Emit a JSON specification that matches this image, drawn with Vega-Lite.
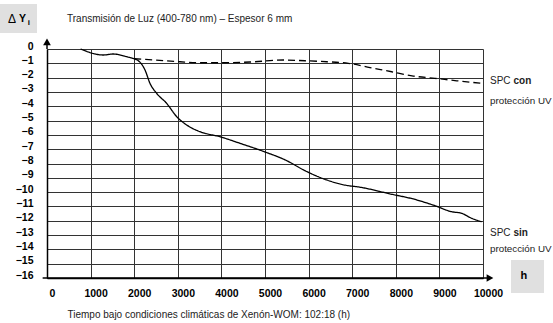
{
  "$schema": "https://vega.github.io/schema/vega-lite/v6.json",
  "width": 436,
  "height": 229,
  "autosize": "none",
  "padding": {"left": 47, "top": 49, "right": 70, "bottom": 45},
  "config": {
    "view": {"stroke": null},
    "font": "Liberation Sans",
    "numberFormat": "d",
    "axis": {
      "grid": true, "gridColor": "#333", "gridWidth": 1,
      "domainColor": "black", "domainWidth": 1.5, "ticks": false,
      "labelFontWeight": "bold", "labelFontSize": 10.5, "labelColor": "black",
      "labelFlush": false, "labelOverlap": false,
      "titleFontWeight": "normal", "titleFontSize": 10, "titleColor": "#222"
    },
    "axisX": {
      "tickCount": 10, "labelPadding": 10, "labelOffset": 5,
      "titleX": 20, "titleY": 36, "titleAnchor": "start", "titleAlign": "left", "titleBaseline": "middle"
    },
    "axisY": {
      "tickCount": 16, "labelPadding": 14, "labelOffset": -3, "titleOpacity": 0
    }
  },
  "datasets": {
    "one": [{}],
    "curves": [
      {"h": 770, "dy": 0, "serie": "sin"},
      {"h": 1292, "dy": -0.42, "serie": "sin"},
      {"h": 1521, "dy": -0.35, "serie": "sin"},
      {"h": 1827, "dy": -0.54, "serie": "sin"},
      {"h": 2094, "dy": -0.82, "serie": "sin"},
      {"h": 2248, "dy": -1.47, "serie": "sin"},
      {"h": 2362, "dy": -2.4, "serie": "sin"},
      {"h": 2516, "dy": -3.1, "serie": "sin"},
      {"h": 2745, "dy": -3.8, "serie": "sin"},
      {"h": 2975, "dy": -4.73, "serie": "sin"},
      {"h": 3204, "dy": -5.31, "serie": "sin"},
      {"h": 3509, "dy": -5.78, "serie": "sin"},
      {"h": 3968, "dy": -6.13, "serie": "sin"},
      {"h": 4427, "dy": -6.59, "serie": "sin"},
      {"h": 4961, "dy": -7.15, "serie": "sin"},
      {"h": 5497, "dy": -7.8, "serie": "sin"},
      {"h": 5917, "dy": -8.5, "serie": "sin"},
      {"h": 6415, "dy": -9.15, "serie": "sin"},
      {"h": 6911, "dy": -9.55, "serie": "sin"},
      {"h": 7103, "dy": -9.62, "serie": "sin"},
      {"h": 7906, "dy": -10.15, "serie": "sin"},
      {"h": 8402, "dy": -10.48, "serie": "sin"},
      {"h": 8899, "dy": -10.95, "serie": "sin"},
      {"h": 9282, "dy": -11.37, "serie": "sin"},
      {"h": 9511, "dy": -11.48, "serie": "sin"},
      {"h": 9741, "dy": -11.83, "serie": "sin"},
      {"h": 9970, "dy": -12.07, "serie": "sin"},
      {"h": 2000, "dy": -0.68, "serie": "con"},
      {"h": 2500, "dy": -0.78, "serie": "con"},
      {"h": 3050, "dy": -0.89, "serie": "con"},
      {"h": 3509, "dy": -0.96, "serie": "con"},
      {"h": 3968, "dy": -0.96, "serie": "con"},
      {"h": 4656, "dy": -0.91, "serie": "con"},
      {"h": 5420, "dy": -0.77, "serie": "con"},
      {"h": 5917, "dy": -0.82, "serie": "con"},
      {"h": 6415, "dy": -0.89, "serie": "con"},
      {"h": 6911, "dy": -1.0, "serie": "con"},
      {"h": 7408, "dy": -1.3, "serie": "con"},
      {"h": 7906, "dy": -1.59, "serie": "con"},
      {"h": 8402, "dy": -1.89, "serie": "con"},
      {"h": 8899, "dy": -2.05, "serie": "con"},
      {"h": 9397, "dy": -2.22, "serie": "con"},
      {"h": 9970, "dy": -2.4, "serie": "con"}
    ]
  },
  "layer": [
    {
      "data": {"name": "curves"},
      "mark": {"type": "line", "color": "black", "strokeWidth": 1.3, "interpolate": "monotone"},
      "encoding": {
        "x": {
          "field": "h", "type": "quantitative",
          "title": "Tiempo bajo condiciones climáticas de Xenón-WOM: 102:18 (h)",
          "scale": {"domain": [0, 10000], "nice": false, "zero": false}
        },
        "y": {
          "field": "dy", "type": "quantitative", "title": "ΔYi",
          "scale": {"domain": [-16, 0], "nice": false, "zero": false}
        },
        "strokeDash": {
          "field": "serie", "type": "nominal",
          "scale": {"domain": ["con", "sin"], "range": [[7, 4], [1, 0]]},
          "legend": null
        }
      }
    },
    {
      "data": {"name": "one"},
      "mark": {"type": "rule", "color": "black", "strokeWidth": 1.5},
      "encoding": {"x": {"datum": 0}, "y": {"datum": 0}, "y2": {"datum": 0.45}}
    },
    {
      "data": {"name": "one"},
      "mark": {"type": "rule", "color": "black", "strokeWidth": 1.5},
      "encoding": {"x": {"datum": -100}, "x2": {"datum": 10160}, "y": {"datum": -16}}
    },
    {
      "data": {"name": "one"},
      "mark": {"type": "point", "shape": "triangle-up", "filled": true, "color": "black", "size": 60, "opacity": 1},
      "encoding": {"x": {"datum": 0}, "y": {"datum": 0.5}}
    },
    {
      "data": {"name": "one"},
      "mark": {"type": "point", "shape": "triangle-right", "filled": true, "color": "black", "size": 60, "opacity": 1},
      "encoding": {"x": {"datum": 10160}, "y": {"datum": -16}}
    },
    {
      "data": {"name": "one"},
      "mark": {"type": "rect", "color": "#e0e0e0"},
      "encoding": {"x": {"datum": -1078}, "x2": {"datum": -229}, "y": {"datum": 3.14}, "y2": {"datum": 1.12}}
    },
    {
      "data": {"name": "one"},
      "mark": {"type": "rect", "color": "#e0e0e0"},
      "encoding": {"x": {"datum": 10642}, "x2": {"datum": 11399}, "y": {"datum": -14.74}, "y2": {"datum": -17.05}}
    },
    {
      "data": {"name": "one"},
      "mark": {"type": "text", "text": "Transmisión de Luz (400-780 nm) – Espesor 6 mm", "align": "left", "baseline": "middle", "fontSize": 10, "color": "#222"},
      "encoding": {"x": {"datum": 459}, "y": {"datum": 2.1}}
    },
    {
      "data": {"name": "one"},
      "mark": {"type": "text", "text": "Δ", "align": "left", "baseline": "middle", "fontSize": 12, "fontWeight": "normal", "color": "black"},
      "encoding": {"x": {"datum": -894}, "y": {"datum": 2.1}}
    },
    {
      "data": {"name": "one"},
      "mark": {"type": "text", "text": "Y", "align": "left", "baseline": "middle", "fontSize": 10.5, "fontWeight": "bold", "color": "black"},
      "encoding": {"x": {"datum": -642}, "y": {"datum": 2.1}}
    },
    {
      "data": {"name": "one"},
      "mark": {"type": "text", "text": "i", "align": "left", "baseline": "middle", "fontSize": 8, "fontWeight": "bold", "color": "black"},
      "encoding": {"x": {"datum": -440}, "y": {"datum": 1.8}}
    },
    {
      "data": {"name": "one"},
      "mark": {"type": "text", "text": "h", "align": "center", "baseline": "middle", "fontSize": 11, "fontWeight": "bold", "color": "black"},
      "encoding": {"x": {"datum": 10940}, "y": {"datum": -15.85}}
    },
    {
      "data": {"name": "one"},
      "mark": {"type": "text", "text": "SPC", "align": "left", "baseline": "middle", "fontSize": 10, "color": "#222"},
      "encoding": {"x": {"datum": 10160}, "y": {"datum": -2.25}}
    },
    {
      "data": {"name": "one"},
      "mark": {"type": "text", "text": "con", "align": "left", "baseline": "middle", "fontSize": 10, "fontWeight": "bold", "color": "#222"},
      "encoding": {"x": {"datum": 10700}, "y": {"datum": -2.25}}
    },
    {
      "data": {"name": "one"},
      "mark": {"type": "text", "text": "protección UV", "align": "left", "baseline": "middle", "fontSize": 9.8, "color": "#222"},
      "encoding": {"x": {"datum": 10160}, "y": {"datum": -3.6}}
    },
    {
      "data": {"name": "one"},
      "mark": {"type": "text", "text": "SPC", "align": "left", "baseline": "middle", "fontSize": 10, "color": "#222"},
      "encoding": {"x": {"datum": 10160}, "y": {"datum": -12.86}}
    },
    {
      "data": {"name": "one"},
      "mark": {"type": "text", "text": "sin", "align": "left", "baseline": "middle", "fontSize": 10, "fontWeight": "bold", "color": "#222"},
      "encoding": {"x": {"datum": 10700}, "y": {"datum": -12.86}}
    },
    {
      "data": {"name": "one"},
      "mark": {"type": "text", "text": "protección UV", "align": "left", "baseline": "middle", "fontSize": 9.8, "color": "#222"},
      "encoding": {"x": {"datum": 10160}, "y": {"datum": -13.95}}
    }
  ]
}
